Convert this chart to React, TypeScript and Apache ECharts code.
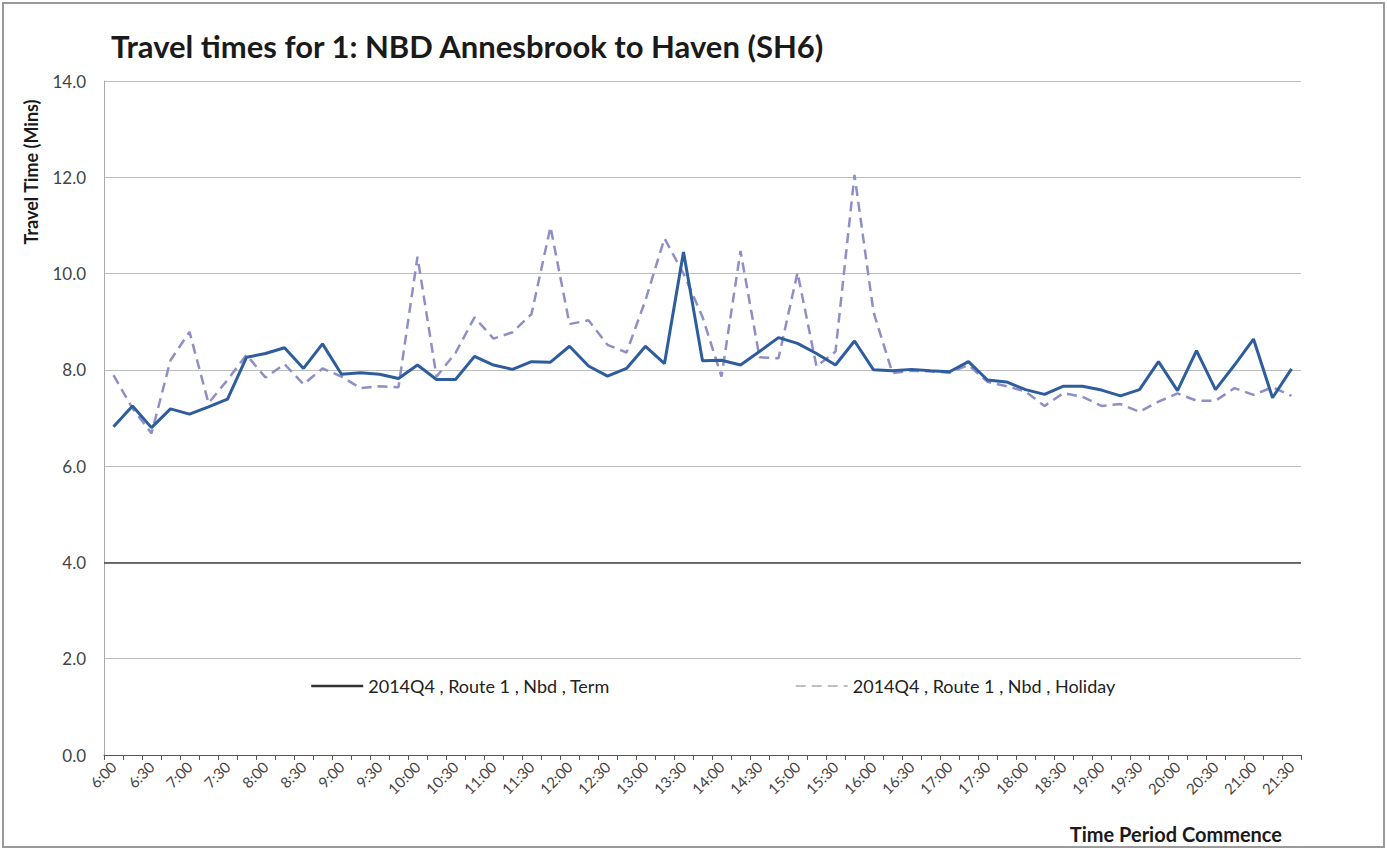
import React, { useEffect, useRef } from "react";
import * as echarts from "echarts";

const TITLE = "Travel times for 1: NBD Annesbrook to Haven (SH6)";
const Y_NAME = "Travel Time (Mins)";
const X_NAME = "Time Period Commence";
const TERM_NAME = "2014Q4 , Route 1 , Nbd , Term";
const HOLIDAY_NAME = "2014Q4 , Route 1 , Nbd , Holiday";

const categories = [
  "6:00", "6:15", "6:30", "6:45", "7:00", "7:15", "7:30", "7:45",
  "8:00", "8:15", "8:30", "8:45", "9:00", "9:15", "9:30", "9:45",
  "10:00", "10:15", "10:30", "10:45", "11:00", "11:15", "11:30", "11:45",
  "12:00", "12:15", "12:30", "12:45", "13:00", "13:15", "13:30", "13:45",
  "14:00", "14:15", "14:30", "14:45", "15:00", "15:15", "15:30", "15:45",
  "16:00", "16:15", "16:30", "16:45", "17:00", "17:15", "17:30", "17:45",
  "18:00", "18:15", "18:30", "18:45", "19:00", "19:15", "19:30", "19:45",
  "20:00", "20:15", "20:30", "20:45", "21:00", "21:15", "21:30",
];

const termValues = [
  6.82, 7.25, 6.8, 7.19, 7.08, 7.23, 7.39, 8.26,
  8.34, 8.46, 8.03, 8.54, 7.91, 7.94, 7.91, 7.82,
  8.1, 7.8, 7.8, 8.28, 8.1, 8.01, 8.17, 8.16,
  8.49, 8.08, 7.87, 8.03, 8.49, 8.13, 10.45, 8.19,
  8.2, 8.1, 8.38, 8.67, 8.55, 8.34, 8.1, 8.6,
  8.0, 7.98, 8.01, 7.98, 7.96, 8.17, 7.79, 7.75,
  7.59, 7.49, 7.66, 7.66, 7.58, 7.46, 7.59, 8.17,
  7.57, 8.4, 7.59, 8.1, 8.64, 7.42, 8.02,
];

const holidayValues = [
  7.89, 7.2, 6.68, 8.2, 8.79, 7.31, 7.79, 8.31,
  7.84, 8.12, 7.7, 8.03, 7.86, 7.62, 7.66, 7.64,
  10.35, 7.86, 8.35, 9.09, 8.65, 8.78, 9.16, 10.97,
  8.95, 9.03, 8.52, 8.36, 9.45, 10.73, 10.0, 9.1,
  7.86, 10.47, 8.26, 8.24, 10.02, 8.07, 8.38, 12.05,
  9.2, 7.93, 7.98, 7.97, 7.94, 8.1, 7.75, 7.66,
  7.55, 7.25, 7.52, 7.44, 7.25, 7.29, 7.13, 7.34,
  7.51, 7.36, 7.36, 7.62, 7.48, 7.64, 7.46,
];

const Y_MIN = 0;
const Y_MAX = 14;
const Y_STEP = 2;
const DARK_GRID_VALUE = 4;

const TERM_COLOR = "#2E5D9E";
const HOLIDAY_COLOR = "#8F8FC8";
const FONT = "Lato, 'Open Sans', 'DejaVu Sans', sans-serif";

export default function App() {
  const ref = useRef<HTMLDivElement>(null);

  useEffect(() => {
    document.body.style.margin = "0";
    if (!ref.current) return;
    const chart = echarts.init(ref.current, undefined, { renderer: "svg" });
    chart.setOption({
      animation: false,
      backgroundColor: "#ffffff",
      title: {
        text: TITLE,
        left: 106,
        top: 25,
        textStyle: {
          fontFamily: FONT,
          fontSize: 31,
          fontWeight: "bold",
          color: "#1a1a1a",
        },
      },
      legend: [
        {
          left: 305,
          top: 672,
          itemWidth: 52,
          itemHeight: 14,
          itemGap: 6,
          textStyle: { fontFamily: FONT, fontSize: 18, color: "#222" },
          data: [
            {
              name: TERM_NAME,
              itemStyle: { opacity: 0 },
              lineStyle: { color: "#333", width: 2.5 },
            },
          ],
        },
        {
          left: 790,
          top: 672,
          itemWidth: 52,
          itemHeight: 14,
          textStyle: { fontFamily: FONT, fontSize: 18, color: "#222" },
          data: [
            {
              name: HOLIDAY_NAME,
              itemStyle: { opacity: 0 },
              lineStyle: { color: "#aaa", width: 1.5 },
            },
          ],
        },
      ],
      grid: { left: 104, right: 86, top: 81, bottom: 95, containLabel: false },
      xAxis: {
        type: "category",
        data: categories,
        boundaryGap: true,
        axisLine: { show: true, lineStyle: { color: "#555", width: 1 } },
        axisTick: { show: true, interval: 0, length: 5, lineStyle: { color: "#555" } },
        axisLabel: {
          interval: 1,
          rotate: 45,
          fontFamily: FONT,
          fontSize: 15,
          color: "#444",
          margin: 9,
        },
        splitLine: { show: false },
      },
      yAxis: {
        type: "value",
        min: Y_MIN,
        max: Y_MAX,
        interval: Y_STEP,
        axisLine: { show: true, lineStyle: { color: "#aaa" } },
        axisTick: { show: false },
        axisLabel: {
          fontFamily: FONT,
          fontSize: 17,
          color: "#444",
          margin: 18,
          formatter: (v: number) => v.toFixed(1),
        },
        splitLine: { show: true, lineStyle: { color: "#bdbdbd", width: 1 } },
      },
      graphic: [
        {
          type: "rect",
          shape: { x: 3, y: 3, width: 1381, height: 844 },
          style: { fill: "none", stroke: "#9a9a9a", lineWidth: 2 },
          silent: true,
        },
        {
          type: "text",
          x: 31,
          y: 172,
          rotation: Math.PI / 2,
          style: {
            text: Y_NAME,
            font: `bold 18px ${FONT}`,
            fill: "#1a1a1a",
            align: "center",
            verticalAlign: "middle",
          },
        },
        {
          type: "text",
          x: 1282,
          y: 834,
          style: {
            text: X_NAME,
            font: `bold 20px ${FONT}`,
            fill: "#1a1a1a",
            align: "right",
            verticalAlign: "middle",
          },
        },
      ],
      series: [
        {
          name: HOLIDAY_NAME,
          type: "line",
          data: holidayValues,
          symbol: "none",
          showSymbol: false,
          lineStyle: { color: HOLIDAY_COLOR, width: 2.5, type: [10, 6] },
          itemStyle: { color: HOLIDAY_COLOR },
          z: 2,
        },
        {
          name: TERM_NAME,
          type: "line",
          data: termValues,
          symbol: "none",
          showSymbol: false,
          lineStyle: { color: TERM_COLOR, width: 3 },
          itemStyle: { color: TERM_COLOR },
          z: 3,
          markLine: {
            silent: true,
            symbol: "none",
            label: { show: false },
            lineStyle: { color: "#444", width: 1.5, type: "solid" },
            data: [{ yAxis: DARK_GRID_VALUE }],
          },
        },
      ],
    });
    return () => chart.dispose();
  }, []);

  return <div ref={ref} style={{ width: 1387, height: 850 }} />;
}
